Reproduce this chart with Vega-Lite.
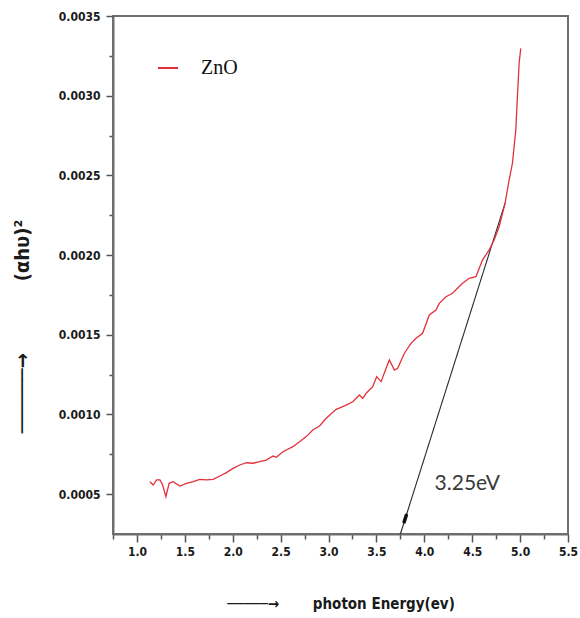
{
  "$schema": "https://vega.github.io/schema/vega-lite/v6.json",
  "width": 455,
  "height": 518,
  "autosize": {"type": "none"},
  "padding": {"left": 113, "top": 16, "right": 12, "bottom": 84},
  "background": "white",
  "datasets": {
    "curve": [
      {"energy": 1.135, "value": 0.000578, "series": "ZnO"},
      {"energy": 1.170, "value": 0.000557, "series": "ZnO"},
      {"energy": 1.205, "value": 0.000589, "series": "ZnO"},
      {"energy": 1.240, "value": 0.000589, "series": "ZnO"},
      {"energy": 1.268, "value": 0.000557, "series": "ZnO"},
      {"energy": 1.302, "value": 0.000484, "series": "ZnO"},
      {"energy": 1.336, "value": 0.000568, "series": "ZnO"},
      {"energy": 1.378, "value": 0.000578, "series": "ZnO"},
      {"energy": 1.448, "value": 0.000551, "series": "ZnO"},
      {"energy": 1.518, "value": 0.000568, "series": "ZnO"},
      {"energy": 1.586, "value": 0.000578, "series": "ZnO"},
      {"energy": 1.656, "value": 0.000593, "series": "ZnO"},
      {"energy": 1.726, "value": 0.000589, "series": "ZnO"},
      {"energy": 1.795, "value": 0.000593, "series": "ZnO"},
      {"energy": 1.865, "value": 0.000614, "series": "ZnO"},
      {"energy": 1.934, "value": 0.000635, "series": "ZnO"},
      {"energy": 2.003, "value": 0.000662, "series": "ZnO"},
      {"energy": 2.073, "value": 0.000683, "series": "ZnO"},
      {"energy": 2.143, "value": 0.000697, "series": "ZnO"},
      {"energy": 2.211, "value": 0.000694, "series": "ZnO"},
      {"energy": 2.281, "value": 0.000704, "series": "ZnO"},
      {"energy": 2.351, "value": 0.000714, "series": "ZnO"},
      {"energy": 2.420, "value": 0.000739, "series": "ZnO"},
      {"energy": 2.455, "value": 0.000731, "series": "ZnO"},
      {"energy": 2.524, "value": 0.000766, "series": "ZnO"},
      {"energy": 2.628, "value": 0.000798, "series": "ZnO"},
      {"energy": 2.698, "value": 0.000829, "series": "ZnO"},
      {"energy": 2.768, "value": 0.000861, "series": "ZnO"},
      {"energy": 2.836, "value": 0.000903, "series": "ZnO"},
      {"energy": 2.906, "value": 0.000928, "series": "ZnO"},
      {"energy": 2.976, "value": 0.000976, "series": "ZnO"},
      {"energy": 3.080, "value": 0.001032, "series": "ZnO"},
      {"energy": 3.184, "value": 0.001059, "series": "ZnO"},
      {"energy": 3.253, "value": 0.001080, "series": "ZnO"},
      {"energy": 3.323, "value": 0.001122, "series": "ZnO"},
      {"energy": 3.357, "value": 0.001101, "series": "ZnO"},
      {"energy": 3.393, "value": 0.001133, "series": "ZnO"},
      {"energy": 3.461, "value": 0.001174, "series": "ZnO"},
      {"energy": 3.503, "value": 0.001237, "series": "ZnO"},
      {"energy": 3.549, "value": 0.001206, "series": "ZnO"},
      {"energy": 3.601, "value": 0.001290, "series": "ZnO"},
      {"energy": 3.635, "value": 0.001342, "series": "ZnO"},
      {"energy": 3.688, "value": 0.001279, "series": "ZnO"},
      {"energy": 3.722, "value": 0.001290, "series": "ZnO"},
      {"energy": 3.792, "value": 0.001384, "series": "ZnO"},
      {"energy": 3.861, "value": 0.001446, "series": "ZnO"},
      {"energy": 3.914, "value": 0.001478, "series": "ZnO"},
      {"energy": 3.982, "value": 0.001509, "series": "ZnO"},
      {"energy": 4.052, "value": 0.001624, "series": "ZnO"},
      {"energy": 4.122, "value": 0.001655, "series": "ZnO"},
      {"energy": 4.156, "value": 0.001697, "series": "ZnO"},
      {"energy": 4.226, "value": 0.001739, "series": "ZnO"},
      {"energy": 4.295, "value": 0.001760, "series": "ZnO"},
      {"energy": 4.399, "value": 0.001823, "series": "ZnO"},
      {"energy": 4.469, "value": 0.001854, "series": "ZnO"},
      {"energy": 4.539, "value": 0.001864, "series": "ZnO"},
      {"energy": 4.607, "value": 0.001969, "series": "ZnO"},
      {"energy": 4.677, "value": 0.002032, "series": "ZnO"},
      {"energy": 4.729, "value": 0.002095, "series": "ZnO"},
      {"energy": 4.781, "value": 0.002178, "series": "ZnO"},
      {"energy": 4.844, "value": 0.002327, "series": "ZnO"},
      {"energy": 4.885, "value": 0.002471, "series": "ZnO"},
      {"energy": 4.920, "value": 0.002576, "series": "ZnO"},
      {"energy": 4.955, "value": 0.002785, "series": "ZnO"},
      {"energy": 4.972, "value": 0.002994, "series": "ZnO"},
      {"energy": 4.990, "value": 0.003205, "series": "ZnO"},
      {"energy": 5.007, "value": 0.003297, "series": "ZnO"}
    ],
    "tangent": [
      {"energy": 3.75, "value": 0.00025},
      {"energy": 4.844, "value": 0.002327}
    ],
    "blob": [
      {"energy": 3.79, "value": 0.000326},
      {"energy": 3.812, "value": 0.000368}
    ],
    "note": [
      {"energy": 4.448, "value": 0.000564, "text": "3.25eV"}
    ]
  },
  "resolve": {"axis": {"x": "independent", "y": "independent"}},
  "layer": [
    {
      "data": {"name": "tangent"},
      "mark": {"type": "line", "color": "#2a2a2a", "strokeWidth": 1.1},
      "encoding": {
        "x": {
          "field": "energy",
          "type": "quantitative",
          "axis": {
            "orient": "bottom",
            "values": [0.75, 1.25, 1.75, 2.25, 2.75, 3.25, 3.75, 4.25, 4.75, 5.25],
            "labels": false,
            "domain": false,
            "tickSize": 5,
            "title": null
          }
        },
        "y": {
          "field": "value",
          "type": "quantitative",
          "axis": {
            "orient": "left",
            "values": [0.00075, 0.00125, 0.00175, 0.00225, 0.00275, 0.00325],
            "labels": false,
            "domain": false,
            "tickSize": 4,
            "title": null
          }
        }
      }
    },
    {
      "data": {"name": "blob"},
      "mark": {"type": "line", "color": "#111", "strokeWidth": 3.5, "strokeCap": "round"},
      "encoding": {
        "x": {"field": "energy", "type": "quantitative", "axis": null},
        "y": {"field": "value", "type": "quantitative", "axis": null}
      }
    },
    {
      "data": {"name": "curve"},
      "mark": {"type": "line", "strokeWidth": 1.3},
      "encoding": {
        "x": {
          "field": "energy",
          "type": "quantitative",
          "scale": {"domain": [0.75, 5.5], "nice": false, "zero": false},
          "axis": {
            "orient": "bottom",
            "values": [1, 1.5, 2, 2.5, 3, 3.5, 4, 4.5, 5, 5.5],
            "format": ".1f",
            "labelOverlap": false,
            "labelFlush": false,
            "tickSize": 8,
            "labelPadding": 4,
            "title": "─────→\u2003\u2003\u2002photon Energy(ev)",
            "titleFontSize": 15,
            "titleY": 69,
            "titleBaseline": "middle"
          }
        },
        "y": {
          "field": "value",
          "type": "quantitative",
          "scale": {"domain": [0.00025, 0.0035], "nice": false, "zero": false},
          "axis": {
            "orient": "left",
            "values": [0.0005, 0.001, 0.0015, 0.002, 0.0025, 0.003, 0.0035],
            "format": ".4f",
            "labelOverlap": false,
            "labelFlush": false,
            "tickSize": 7,
            "labelPadding": 6,
            "title": "──────→\u2003\u2003\u2003\u2003(αhυ)²",
            "titleFontSize": 20,
            "titleAngle": -90,
            "titleX": -91,
            "titleY": 310,
            "titleAlign": "center",
            "titleBaseline": "middle"
          }
        },
        "color": {
          "field": "series",
          "type": "nominal",
          "scale": {"range": ["#e3313b"]},
          "legend": {
            "title": null,
            "orient": "none",
            "legendX": 44,
            "legendY": 41,
            "symbolType": "stroke",
            "symbolSize": 400,
            "symbolStrokeWidth": 2,
            "symbolStrokeColor": "#d9535c",
            "labelFont": "Liberation Serif",
            "labelFontSize": 20,
            "labelColor": "#111",
            "labelOffset": 22
          }
        }
      }
    },
    {
      "data": {"name": "note"},
      "mark": {"type": "text", "font": "Lato", "fontSize": 21, "color": "#3a3a3a", "align": "center", "baseline": "middle"},
      "encoding": {
        "x": {"field": "energy", "type": "quantitative", "axis": null},
        "y": {"field": "value", "type": "quantitative", "axis": null},
        "text": {"field": "text"}
      }
    }
  ],
  "config": {
    "view": {"stroke": "#6e6e6e", "strokeWidth": 2},
    "axis": {
      "grid": false,
      "domainColor": "#6e6e6e",
      "domainWidth": 2,
      "tickColor": "#555",
      "tickWidth": 1.5,
      "labelFont": "DejaVu Sans Condensed",
      "labelFontWeight": "bold",
      "labelFontSize": 12,
      "labelColor": "#1a1a1a",
      "titleFont": "DejaVu Sans Condensed",
      "titleFontWeight": "bold",
      "titleColor": "#1a1a1a"
    }
  }
}
